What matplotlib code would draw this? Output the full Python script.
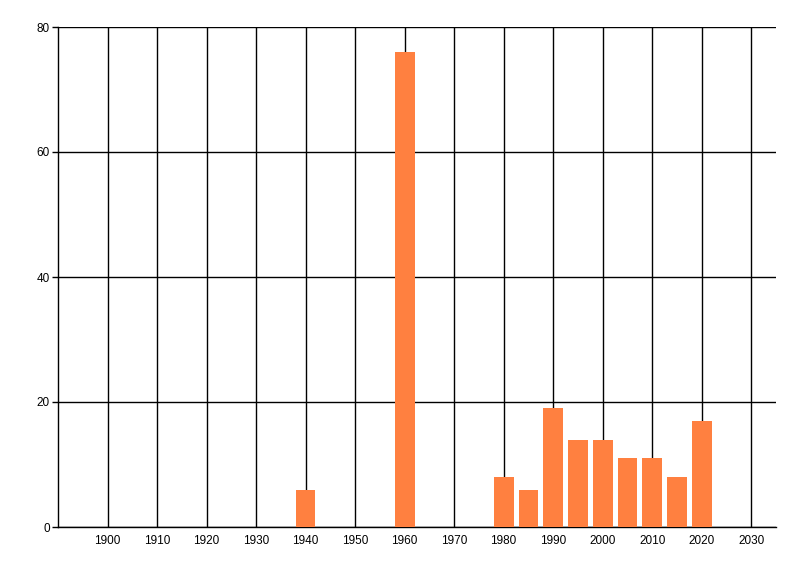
import matplotlib
matplotlib.use("Agg")
import matplotlib.pyplot as plt

years = [1940, 1960, 1980, 1985, 1990, 1995, 2000, 2005, 2010, 2015, 2020]
values = [6, 76, 8, 6, 19, 14, 14, 11, 11, 8, 17]
xticks = list(range(1900, 2031, 10))
yticks = [0, 20, 40, 60, 80]

plt.rcParams['font.family'] = ['Liberation Sans', 'DejaVu Sans']

fig = plt.figure(figsize=(8, 5.76), dpi=100)
ax = fig.add_axes([58/800, 1-527/576, (776-58)/800, (527-27)/576])

ax.bar(years, values, width=4, color='#FF8040', zorder=3)

ax.set_xlim(1890, 2035)
ax.set_ylim(0, 80)
ax.set_xticks(xticks)
ax.set_xticklabels([str(x) for x in xticks])
ax.set_yticks(yticks)
ax.grid(True, color='black', linewidth=1, zorder=1)
ax.set_axisbelow(True)

for s in ['top', 'right']:
    ax.spines[s].set_visible(False)
for s in ['left', 'bottom']:
    ax.spines[s].set_linewidth(1)
    ax.spines[s].set_color('black')

ax.tick_params(axis='x', length=0, pad=6, labelsize=8.5)
ax.tick_params(axis='y', length=4, width=1, pad=2, labelsize=8.5)

fig.savefig('out.png', dpi=100)
